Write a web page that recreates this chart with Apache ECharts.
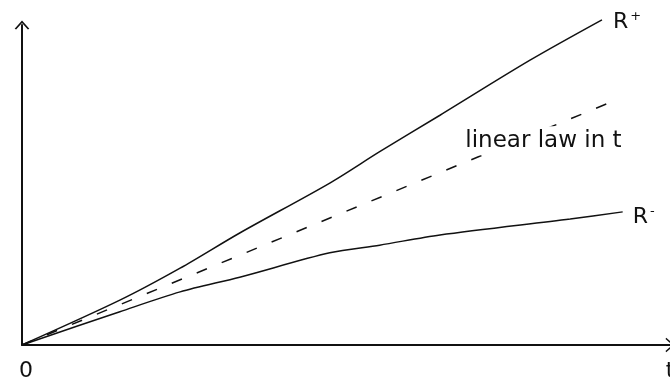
<!DOCTYPE html>
<html>
<head>
<meta charset="utf-8">
<style>
  html, body { margin: 0; padding: 0; background: #fff; }
  #chart { width: 670px; height: 382px; }
</style>
<script src="https://cdn.jsdelivr.net/npm/echarts@6/dist/echarts.min.js"></script>
</head>
<body>
<div id="chart"></div>
<script>
// t axis range and the two labels on it
const tRange = [0, 100]
const tTickLabels = { 0: '{z|0}', 100: '{t|t}' }
const yRange = [0, 50]

// R+ curve (slightly accelerating)
const rPlusT = [0, 15.1, 24.4, 33.6, 47.5, 55.2, 64.5, 78.4, 89.5]
const rPlusV = [0, 7.0, 12.0, 17.5, 25.3, 30.2, 35.9, 44.5, 50.8]

// linear law in t (dashed)
const linT = [0, 91.0]
const linV = [0, 38.0]

// R- curve (saturating)
const rMinusT = [0, 15.1, 24.4, 33.6, 47.5, 55.2, 64.5, 84.6, 92.7]
const rMinusV = [0, 5.2, 8.3, 10.6, 14.4, 15.6, 17.2, 19.7, 20.8]

// where the "linear law in t" note sits
const lawNoteAt = [68.1, 31.9]

const ink = '#111'
const font = 'DejaVu Sans'
const chevron = 'path://M0,9 L8,0 L16,9 L14.4,9.8 L8,2.6 L1.6,9.8 Z'

function pairs(xs, ys) {
  return xs.map((x, i) => [x, ys[i]])
}

const supRich = {
  r: { fontSize: 22, fontFamily: font, color: ink },
  s: { fontSize: 13, fontFamily: font, color: ink, verticalAlign: 'top', padding: [0, 0, 10, 2] }
}

const chart = echarts.init(document.getElementById('chart'))
chart.setOption({
  animation: false,
  backgroundColor: '#fff',
  grid: { left: 22, right: 0, top: 25, bottom: 37, outerBoundsMode: 'none' },
  xAxis: {
    type: 'value',
    min: tRange[0],
    max: tRange[1],
    interval: 100,
    splitLine: { show: false },
    axisTick: { show: false },
    axisLine: {
      lineStyle: { color: ink, width: 2 },
      symbol: ['none', chevron],
      symbolSize: [16, 9]
    },
    axisLabel: {
      showMinLabel: true,
      showMaxLabel: true,
      margin: 15,
      fontSize: 22,
      fontFamily: font,
      color: ink,
      formatter: v => tTickLabels[v] || '',
      rich: {
        z: { fontSize: 22, fontFamily: font, color: ink, padding: [0, 0, 0, 8] },
        t: { fontSize: 22, fontFamily: font, color: ink, padding: [0, 0, 0, 0] }
      }
    }
  },
  yAxis: {
    type: 'value',
    min: yRange[0],
    max: yRange[1],
    splitLine: { show: false },
    axisTick: { show: false },
    axisLabel: { show: false },
    axisLine: {
      show: true,
      lineStyle: { color: ink, width: 2 },
      symbol: ['none', chevron],
      symbolSize: [16, 9]
    }
  },
  series: [
    {
      type: 'line',
      data: pairs(rPlusT, rPlusV),
      clip: false,
      smooth: 0.3,
      showSymbol: false,
      lineStyle: { color: ink, width: 1.5 },
      endLabel: {
        show: true,
        offset: [3, 2],
        formatter: '{r|R}{s|+}',
        rich: supRich
      }
    },
    {
      type: 'line',
      data: pairs(linT, linV),
      clip: false,
      showSymbol: false,
      lineStyle: { color: ink, width: 1.5, type: [11, 16] },
      markPoint: {
        symbolSize: 0,
        data: [{ coord: lawNoteAt }],
        label: {
          show: true,
          position: 'right',
          distance: 0,
          formatter: 'linear law in t',
          fontSize: 23,
          fontFamily: font,
          color: ink,
          backgroundColor: '#fff',
          padding: [3, 2, 3, 2]
        }
      }
    },
    {
      type: 'line',
      data: pairs(rMinusT, rMinusV),
      clip: false,
      smooth: 0.3,
      showSymbol: false,
      lineStyle: { color: ink, width: 1.5 },
      endLabel: {
        show: true,
        offset: [2, 5],
        formatter: '{r|R}{s|-}',
        rich: supRich
      }
    }
  ]
})
</script>
</body>
</html>
